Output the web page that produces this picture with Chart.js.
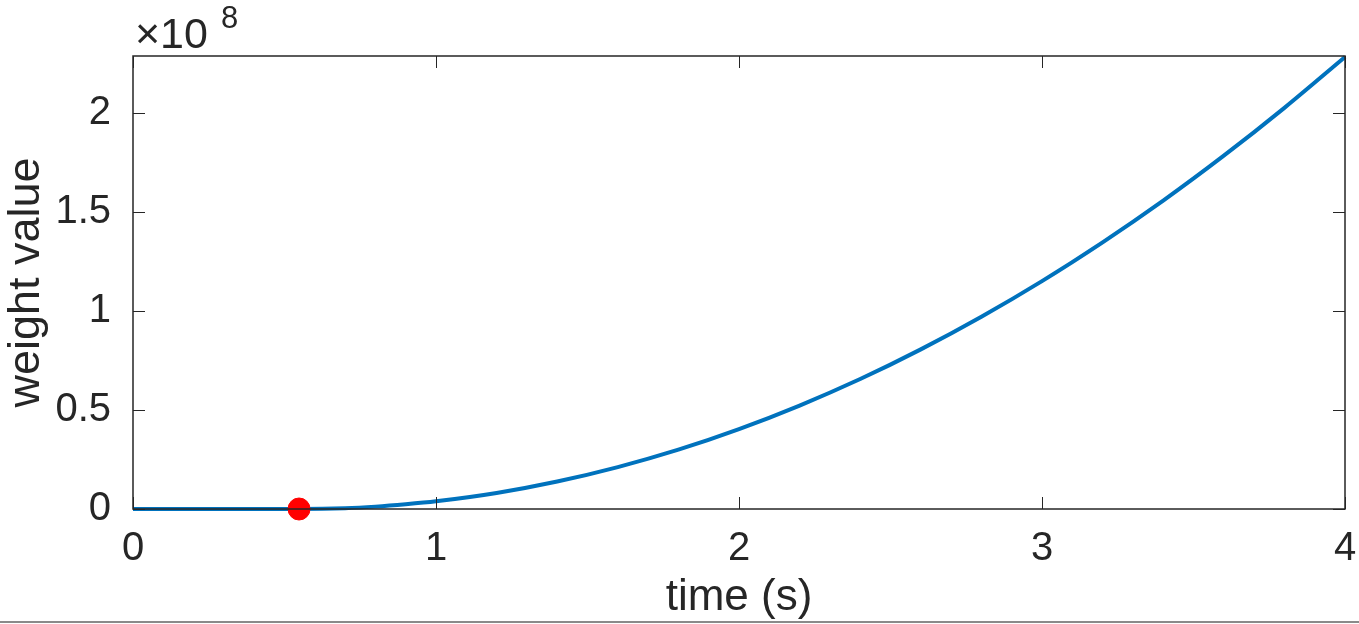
<!DOCTYPE html>
<html>
<head>
<meta charset="utf-8">
<script src="https://cdn.jsdelivr.net/npm/chart.js@4"></script>
<style>
  html, body { margin: 0; padding: 0; background: #fff; }
  #wrap { width: 1359px; height: 624px; position: relative; }
</style>
</head>
<body>
<div id="wrap"><canvas id="weightChart"></canvas></div>
<script>
// time (s) and weight value
const times   = [0, 0.2, 0.4, 0.55, 0.7, 0.8, 0.9, 1.0, 1.2, 1.4, 1.6, 1.8, 2.0, 2.2, 2.4, 2.6, 2.8, 3.0, 3.2, 3.4, 3.6, 3.8, 4.0];
const weights = [0, 0, 0, 0, 0.004e8, 0.012e8, 0.024e8, 0.039e8, 0.081e8, 0.139e8, 0.212e8, 0.300e8, 0.404e8, 0.523e8, 0.657e8, 0.807e8, 0.972e8, 1.152e8, 1.348e8, 1.559e8, 1.786e8, 2.028e8, 2.285e8];
const markerTime = [0.548];
const markerWeight = [0];
const xTicks = [0, 1, 2, 3, 4];
const yTicks = [0, 0.5e8, 1e8, 1.5e8, 2e8];
const yMax = 2.29e8;

const font = 'Liberation Sans, Arial, Helvetica, sans-serif';

const boxPlugin = {
    id: 'matlabBox',
    afterDraw(chart) {
        const ctx = chart.ctx;
        const a = chart.chartArea;
        const xs = chart.scales.x, ys = chart.scales.y;
        ctx.save();
        ctx.strokeStyle = '#262626';
        ctx.lineWidth = 1.5;
        ctx.strokeRect(a.left, a.top, a.right - a.left, a.bottom - a.top);
        ctx.lineWidth = 1;
        const tl = 12;
        ctx.beginPath();
        xTicks.forEach(v => {
            const px = Math.round(xs.getPixelForValue(v)) + 0.5;
            ctx.moveTo(px, a.bottom); ctx.lineTo(px, a.bottom - tl);
            ctx.moveTo(px, a.top); ctx.lineTo(px, a.top + tl);
        });
        yTicks.forEach(v => {
            const py = Math.round(ys.getPixelForValue(v)) + 0.5;
            ctx.moveTo(a.left, py); ctx.lineTo(a.left + tl, py);
            ctx.moveTo(a.right, py); ctx.lineTo(a.right - tl, py);
        });
        ctx.stroke();

        // exponent label
        ctx.fillStyle = '#262626';
        ctx.textBaseline = 'alphabetic';
        ctx.textAlign = 'left';
        ctx.font = '43px ' + font;
        ctx.fillText('\u00d710', 135, 48);
        ctx.font = '31px ' + font;
        ctx.fillText('8', 221, 28);

        // bottom figure edge
        ctx.strokeStyle = '#8a8a8a';
        ctx.lineWidth = 2;
        ctx.beginPath();
        ctx.moveTo(0, 622); ctx.lineTo(1359, 622);
        ctx.stroke();
        ctx.restore();
    }
};

new Chart(document.getElementById('weightChart').getContext('2d'), {
    type: 'scatter',
    data: {
        datasets: [
            {
                label: 'marker',
                data: markerTime.map((t, i) => ({ x: t, y: markerWeight[i] })),
                backgroundColor: '#ff0000',
                borderColor: '#ff0000',
                pointRadius: 11,
                clip: false,
                order: 0
            },
            {
                label: 'weight',
                data: times.map((t, i) => ({ x: t, y: weights[i] })),
                showLine: true,
                borderColor: '#0072bd',
                borderWidth: 4,
                pointRadius: 0,
                cubicInterpolationMode: 'monotone',
                clip: false,
                order: 1
            }
        ]
    },
    options: {
        responsive: true,
        maintainAspectRatio: false,
        animation: false,
        layout: { padding: { top: 56, right: 14, left: 0, bottom: 0 } },
        plugins: { legend: { display: false }, tooltip: { enabled: false } },
        scales: {
            x: {
                type: 'linear',
                min: 0, max: 4,
                afterBuildTicks: s => { s.ticks = xTicks.map(v => ({ value: v })); },
                afterFit: s => { s.height = 115; s.paddingLeft = 0; s.paddingRight = 0; },
                grid: { display: false, drawTicks: false },
                border: { display: false },
                ticks: { color: '#262626', font: { family: font, size: 40 }, padding: 16, maxRotation: 0 },
                title: { display: true, text: 'time (s)', color: '#262626', font: { family: font, size: 44 }, padding: { top: 0, bottom: 0 } }
            },
            y: {
                type: 'linear',
                min: 0, max: yMax,
                afterBuildTicks: s => { s.ticks = yTicks.map(v => ({ value: v })); },
                afterFit: s => { s.width = 133; s.paddingTop = 0; s.paddingBottom = 0; },
                grid: { display: false, drawTicks: false },
                border: { display: false },
                ticks: { color: '#262626', font: { family: font, size: 40 }, padding: 22, callback: v => String(v / 1e8) },
                title: { display: true, text: 'weight value', color: '#262626', font: { family: font, size: 45 }, padding: { top: 0, bottom: 0 } }
            }
        }
    },
    plugins: [boxPlugin]
});
</script>
</body>
</html>
